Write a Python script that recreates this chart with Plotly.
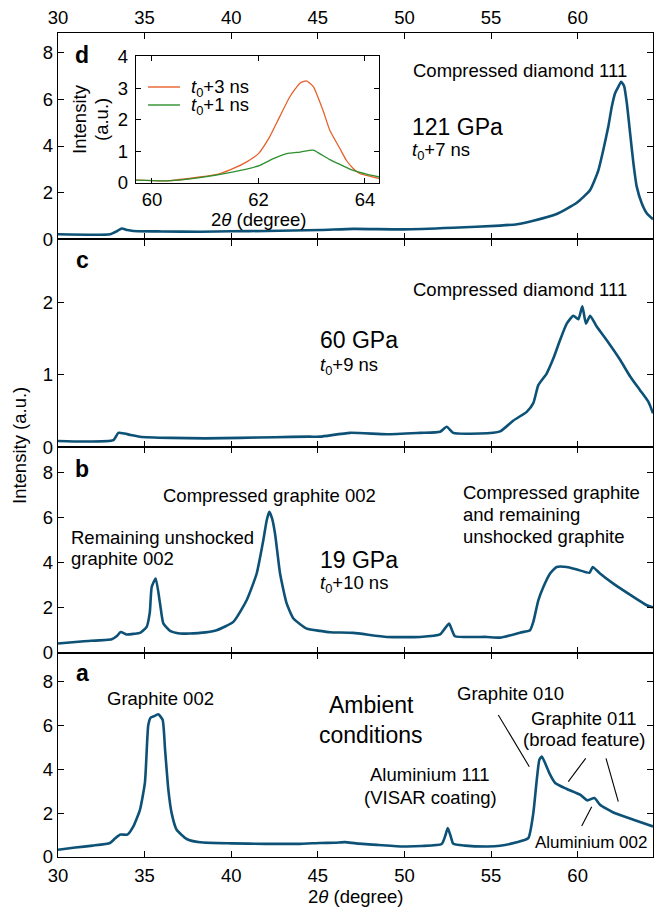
import plotly.graph_objects as go

# ---------------- data ----------------
# Panel a: ambient conditions
a_x = [30.0, 31.0, 32.0, 33.0, 33.3, 33.6, 34.0, 34.35, 34.73, 35.02, 35.21, 35.35, 35.5, 35.79,
       36.04, 36.18, 36.37, 36.56, 36.85, 37.43, 38.2, 40.0, 42.0, 44.0, 45.13, 46.0, 46.57, 47.2,
       48.5, 49.94, 51.0, 52.15, 52.35, 52.5, 52.65, 52.82, 53.5, 54.8, 55.52, 56.48, 57.15, 57.44,
       57.64, 57.79, 57.93, 58.12, 58.41, 58.7, 59.37, 60.14, 60.56, 60.97, 61.29, 62.06, 63.22, 64.35]
a_y = [0.33, 0.43, 0.52, 0.64, 0.85, 1.02, 1.02, 1.4, 2.15, 3.4, 6.0, 6.35, 6.4, 6.5,
       6.25, 4.9, 3.07, 2.0, 1.24, 0.82, 0.67, 0.62, 0.60, 0.60, 0.64, 0.65, 0.68, 0.62,
       0.55, 0.48, 0.5, 0.59, 0.95, 1.32, 1.0, 0.6, 0.52, 0.48, 0.51, 0.67, 0.86, 2.0,
       3.52, 4.43, 4.58, 4.28, 3.75, 3.37, 3.1, 2.84, 2.58, 2.69, 2.38, 2.03, 1.70, 1.39]

# Panel b: 19 GPa
b_x = [30.0, 31.5, 33.1, 33.4, 33.62, 33.97, 34.4, 34.73, 35.12, 35.3, 35.41, 35.64, 35.89, 36.08,
       36.47, 37.04, 38.2, 39.16, 40.12, 40.89, 41.47, 41.85, 42.05, 42.2, 42.35, 42.53, 42.82, 43.2,
       43.59, 44.36, 45.13, 45.7, 47.05, 48.98, 50.9, 52.06, 52.35, 52.58, 52.75, 52.92, 54.75, 55.52,
       56.68, 57.25, 57.44, 57.73, 58.02, 58.41, 58.79, 59.37, 59.95, 60.68, 60.87, 61.29, 62.06,
       63.22, 63.99, 64.35]
b_y = [0.42, 0.52, 0.61, 0.75, 0.93, 0.82, 0.85, 0.89, 1.16, 1.8, 2.93, 3.31, 2.2, 1.31,
       0.98, 0.86, 0.89, 1.01, 1.38, 2.34, 3.53, 5.0, 5.9, 6.27, 6.0, 5.3, 3.53, 2.2,
       1.53, 1.08, 0.98, 0.92, 0.89, 0.71, 0.71, 0.82, 1.1, 1.31, 1.0, 0.74, 0.71, 0.68,
       0.9, 1.01, 1.38, 2.34, 2.93, 3.53, 3.82, 3.82, 3.71, 3.56, 3.82, 3.53, 3.08,
       2.49, 2.12, 2.02]

# Panel c: 60 GPa
c_x = [30.0, 31.5, 33.2, 33.48, 33.85, 34.2, 34.73, 36.5, 38.5, 40.5, 42.5, 44.5, 45.13, 46.86,
       48.98, 50.9, 52.06, 52.44, 52.82, 54.36, 55.52, 56.29, 57.06, 57.44, 57.73, 58.21, 58.6,
       58.98, 59.37, 59.75, 60.04, 60.27, 60.48, 60.72, 61.1, 61.68, 62.45, 63.03, 63.6, 64.08, 64.35]
c_y = [0.087, 0.08, 0.10, 0.2, 0.19, 0.17, 0.147, 0.13, 0.124, 0.13, 0.14, 0.147, 0.147, 0.2,
       0.18, 0.2, 0.216, 0.285, 0.2, 0.19, 0.22, 0.37, 0.49, 0.61, 0.86, 1.02, 1.23,
       1.48, 1.71, 1.82, 1.77, 1.95, 1.71, 1.82, 1.67, 1.48, 1.21, 0.98, 0.79, 0.63, 0.47]

# Panel d: 121 GPa
d_x = [30.0, 33.0, 33.4, 33.68, 34.0, 34.35, 36.0, 38.2, 40.0, 42.0, 45.13, 47.05, 49.94, 52.82,
       55.52, 56.5, 57.44, 58.79, 59.95, 60.72, 61.2, 61.48, 61.77, 61.97, 62.16, 62.35, 62.51,
       62.68, 62.84, 63.03, 63.22, 63.41, 63.7, 63.99, 64.35]
d_y = [0.22, 0.22, 0.35, 0.47, 0.40, 0.36, 0.34, 0.33, 0.35, 0.36, 0.40, 0.45, 0.43, 0.5,
       0.59, 0.65, 0.8, 1.09, 1.57, 2.12, 2.97, 3.83, 4.83, 5.68, 6.26, 6.54, 6.75,
       6.57, 5.83, 4.54, 3.26, 2.26, 1.55, 1.12, 0.86]

# Inset
inset_x3 = [59.7, 60.28, 60.9, 61.28, 61.53, 61.78, 62.0, 62.21, 62.4, 62.59, 62.78, 62.9, 63.03,
            63.21, 63.34, 63.53, 63.65, 63.78, 63.9, 64.03, 64.27]
inset_y3 = [0.09, 0.07, 0.19, 0.3, 0.46, 0.67, 0.93, 1.46, 2.1, 2.73, 3.16, 3.23, 3.05,
            2.31, 1.67, 1.09, 0.72, 0.46, 0.3, 0.24, 0.14]
inset_x1 = [59.7, 60.28, 60.9, 61.53, 62.03, 62.28, 62.53, 62.78, 63.03, 63.15, 63.34, 63.53,
            63.78, 64.03, 64.27]
inset_y1 = [0.09, 0.07, 0.17, 0.35, 0.56, 0.77, 0.93, 0.98, 1.04, 0.93, 0.74, 0.59,
            0.4, 0.28, 0.19]

x_ticks = [30, 35, 40, 45, 50, 55, 60]

# ---------------- layout helpers ----------------
W, H = 654, 908
L, R, T, B = 58, 1, 33, 51
PW, PH = W - L - R, H - T - B


def px(x):
    return (x - L) / PW


def py(y):
    return (H - B - y) / PH


FONT = "Liberation Sans, Arial, Helvetica, sans-serif"
FS = 18.5
LINE_COLOR = "#0d5276"
AX = dict(showline=True, linecolor="black", linewidth=1.3, mirror="allticks",
          ticks="inside", ticklen=6, tickwidth=1.2, tickcolor="black", automargin=False,
          showgrid=False, zeroline=False, tickfont=dict(size=FS, color="black", family=FONT))

fig = go.Figure()
panels = [(a_x, a_y, "x", "y"), (b_x, b_y, "x2", "y2"), (c_x, c_y, "x3", "y3"), (d_x, d_y, "x4", "y4")]
for xs, ys, xa, ya in panels:
    fig.add_trace(go.Scatter(x=xs, y=ys, mode="lines", xaxis=xa, yaxis=ya, showlegend=False,
                             line=dict(color=LINE_COLOR, width=2.6, shape="spline", smoothing=0.5)))

fig.add_trace(go.Scatter(x=inset_x3, y=inset_y3, mode="lines", xaxis="x5", yaxis="y5",
                         showlegend=False,
                         line=dict(color="#e8602a", width=1.3, shape="spline", smoothing=0.5)))
fig.add_trace(go.Scatter(x=inset_x1, y=inset_y1, mode="lines", xaxis="x5", yaxis="y5",
                         showlegend=False,
                         line=dict(color="#2c8f2c", width=1.3, shape="spline", smoothing=0.5)))

xr = [30, 64.35]
b_a, b_b, b_c = 652.9, 447.3, 239.4
layout = dict(
    width=W, height=H, margin=dict(l=L, r=R, t=T, b=B, autoexpand=False),
    paper_bgcolor="white", plot_bgcolor="white",
    font=dict(family=FONT, size=FS, color="black"),
    xaxis=dict(AX, range=xr, tickvals=x_ticks, domain=[0, 1], anchor="y", ticklabelstandoff=2),
    xaxis2=dict(AX, range=xr, tickvals=x_ticks, domain=[0, 1], anchor="y2", matches="x", showticklabels=False),
    xaxis3=dict(AX, range=xr, tickvals=x_ticks, domain=[0, 1], anchor="y3", matches="x", showticklabels=False),
    xaxis4=dict(AX, range=xr, tickvals=x_ticks, domain=[0, 1], anchor="y4", matches="x", side="top"),
    yaxis=dict(AX, range=[0, 9.30], dtick=2, domain=[0, py(b_a)], anchor="x"),
    yaxis2=dict(AX, range=[0, 9.14], dtick=2, domain=[py(b_a), py(b_b)], anchor="x2"),
    yaxis3=dict(AX, range=[0, 2.875], dtick=1, domain=[py(b_b), py(b_c)], anchor="x3"),
    yaxis4=dict(AX, range=[0, 8.84], dtick=2, domain=[py(b_c), 1], anchor="x4"),
    xaxis5=dict(AX, range=[59.7, 64.27], tickvals=[60, 62, 64], domain=[px(136), px(379.3)],
                anchor="y5", ticklen=5),
    yaxis5=dict(AX, range=[0, 4.02], dtick=1, domain=[py(183), py(56)], anchor="x5", ticklen=5,
                ticklabelstandoff=3),
)
fig.update_layout(**layout)


def txt(t, x, y, size=FS, xanchor="left", angle=0, bold=False):
    if bold:
        t = "<b>" + t + "</b>"
    fig.add_annotation(text=t, x=px(x), y=py(y), xref="paper", yref="paper",
                       xanchor=xanchor, yanchor="middle", showarrow=False, textangle=angle,
                       borderpad=0, font=dict(size=size, color="black", family=FONT))


T0 = "<i>t</i><sub>0</sub>"
# Panel d
txt("d", 82, 55, 23, "center", bold=True)
txt("Compressed diamond 111", 412, 71)
txt("121 GPa", 411, 127, 23)
txt(T0 + "+7 ns", 411, 151)
# Panel c
txt("c", 82, 260, 23, "center", bold=True)
txt("Compressed diamond 111", 412, 289)
txt("60 GPa", 319, 340, 23)
txt(T0 + "+9 ns", 319, 366)
# Panel b
txt("b", 82, 469, 23, "center", bold=True)
txt("Compressed graphite 002", 162, 495)
txt("Remaining unshocked", 70, 537)
txt("graphite 002", 70, 558)
txt("19 GPa", 319, 560, 23)
txt(T0 + "+10 ns", 319, 584)
txt("Compressed graphite", 462, 492)
txt("and remaining", 462, 514)
txt("unshocked graphite", 462, 536)
# Panel a
txt("a", 82, 673, 23, "center", bold=True)
txt("Graphite 002", 106, 698)
txt("Ambient", 371, 705, 23, "center")
txt("conditions", 371, 735, 23, "center")
txt("Graphite 010", 456, 693)
txt("Graphite 011", 584, 718, FS, "center")
txt("(broad feature)", 584, 739, FS, "center")
txt("Aluminium 111", 430, 774, FS, "center")
txt("(VISAR coating)", 430, 797, FS, "center")
txt("Aluminium 002", 534, 842, 17)
# Axis titles
txt("Intensity (a.u.)", 20, 446, FS, "center", angle=-90)
txt("2<i>θ</i> (degree)", 355, 896, FS, "center")
# Inset titles & legend
txt("2<i>θ</i> (degree)", 258, 219, FS, "center")
txt("Intensity", 80, 119, FS, "center", angle=-90)
txt("(a.u.)", 101, 120, FS, "center", angle=-90)
txt(T0 + "+3 ns", 190, 88)
txt(T0 + "+1 ns", 190, 106)


def seg(x0, y0, x1, y1, color="black", width=1.1):
    fig.add_shape(type="line", xref="paper", yref="paper", x0=px(x0), y0=py(y0),
                  x1=px(x1), y1=py(y1), line=dict(color=color, width=width))


seg(148, 87, 180, 87, "#e8602a", 1.4)
seg(148, 105, 180, 105, "#2c8f2c", 1.4)
# leader lines in panel a
seg(498.3, 715, 529.3, 766.7)
seg(585.7, 758.3, 568.3, 781.7)
seg(606, 758.3, 618.3, 801.7)
seg(581.7, 826, 591.7, 806.7)

fig.write_html(
    "out.html",
    config={"displayModeBar": False},
    post_script="document.body.style.margin='0px';document.body.style.overflow='hidden';",
)
